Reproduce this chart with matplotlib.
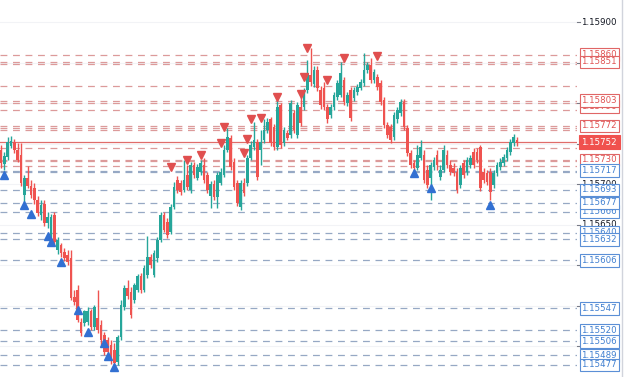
import numpy as np
import matplotlib
matplotlib.use("Agg")
import matplotlib.pyplot as plt
from matplotlib.lines import Line2D

# prices are stored as points above 1.15000 (1 point = 0.00001)
BASE = 1.15

opens = [742, 725, 734, 747, 752, 742, 736, 687, 708, 698,
         695, 681, 662, 676, 652, 631, 662, 619, 625, 617,
         613, 609, 561, 570, 530, 529, 530, 543, 524, 535,
         526, 514, 508, 502, 495, 481, 511, 549, 572, 567,
         557, 570, 587, 570, 588, 610, 588, 609, 631, 662,
         653, 641, 672, 705, 702, 693, 711, 693, 724, 708,
         715, 724, 711, 686, 700, 684, 702, 711, 742, 757,
         728, 702, 672, 702, 702, 732, 746, 752, 742, 755,
         767, 780, 771, 746, 798, 751, 763, 761, 788, 761,
         795, 795, 816, 835, 824, 841, 816, 819, 795, 786,
         795, 808, 810, 829, 800, 816, 807, 814, 819, 825,
         841, 847, 829, 832, 825, 804, 773, 771, 758, 780,
         788, 802, 770, 739, 726, 720, 732, 736, 718, 708,
         721, 736, 709, 718, 736, 724, 720, 715, 699, 726,
         715, 724, 740, 740, 746, 715, 714, 715, 699, 714,
         721, 726, 732, 740, 751, 755]
closes = [726, 735, 752, 753, 742, 730, 702, 708, 698, 687,
          681, 665, 674, 652, 660, 660, 629, 631, 615, 609,
          604, 560, 555, 533, 517, 543, 543, 524, 549, 520,
          508, 493, 493, 483, 479, 511, 551, 572, 562, 539,
          576, 587, 570, 597, 610, 600, 615, 631, 662, 644,
          637, 672, 697, 693, 691, 705, 697, 724, 711, 721,
          726, 705, 693, 700, 684, 711, 715, 742, 758, 721,
          697, 677, 702, 689, 732, 748, 755, 709, 752, 767,
          777, 751, 746, 795, 748, 767, 757, 800, 767, 798,
          776, 814, 837, 826, 841, 819, 798, 795, 780, 795,
          810, 825, 837, 802, 810, 782, 816, 820, 826, 841,
          847, 829, 839, 820, 802, 773, 761, 755, 786, 792,
          802, 771, 739, 724, 720, 736, 746, 705, 699, 724,
          730, 724, 718, 742, 724, 715, 714, 693, 720, 711,
          730, 732, 724, 730, 695, 705, 703, 691, 714, 724,
          728, 734, 742, 752, 758, 751]
highs = [748, 740, 758, 760, 756, 751, 751, 711, 723, 705,
         702, 686, 681, 681, 666, 663, 666, 635, 628, 621,
         619, 619, 570, 576, 535, 545, 548, 546, 551, 570,
         533, 518, 511, 508, 504, 514, 557, 576, 582, 573,
         578, 589, 591, 600, 636, 614, 619, 635, 666, 666,
         658, 676, 703, 710, 705, 730, 724, 728, 728, 725,
         730, 732, 715, 704, 705, 715, 720, 748, 770, 761,
         732, 705, 705, 708, 736, 753, 777, 756, 767, 780,
         782, 783, 775, 805, 800, 771, 767, 804, 792, 802,
         808, 819, 853, 868, 846, 846, 821, 826, 799, 799,
         814, 829, 851, 832, 814, 820, 820, 824, 830, 862,
         851, 856, 842, 836, 829, 808, 777, 775, 789, 795,
         805, 805, 773, 742, 730, 748, 755, 742, 724, 728,
         734, 742, 724, 748, 742, 730, 726, 720, 724, 730,
         734, 736, 745, 745, 748, 720, 718, 720, 718, 728,
         732, 737, 746, 756, 762, 758]
lows = [720, 718, 730, 745, 739, 728, 698, 678, 695, 683,
        676, 661, 656, 648, 646, 630, 625, 614, 610, 605,
        600, 557, 551, 530, 513, 525, 526, 520, 520, 517,
        502, 489, 488, 478, 476, 477, 508, 545, 558, 535,
        554, 567, 566, 567, 584, 597, 586, 604, 629, 641,
        634, 639, 670, 689, 687, 691, 693, 689, 708, 705,
        711, 702, 689, 671, 681, 671, 699, 709, 740, 718,
        693, 673, 668, 686, 698, 730, 742, 705, 724, 751,
        763, 747, 742, 742, 745, 747, 755, 757, 763, 757,
        772, 792, 813, 821, 820, 815, 793, 792, 776, 782,
        792, 804, 808, 798, 797, 778, 803, 810, 816, 821,
        837, 825, 825, 816, 798, 770, 757, 751, 755, 776,
        784, 767, 735, 720, 716, 718, 730, 702, 695, 681,
        718, 718, 705, 715, 720, 711, 710, 689, 695, 708,
        711, 720, 720, 726, 692, 702, 699, 681, 695, 710,
        718, 723, 729, 736, 747, 747]

# fractal markers (bar index, price)
buy_idx = [1, 7, 9, 14, 15, 18, 23, 26, 31, 32, 34, 124, 129, 147]
buy_px = [711, 674, 663, 636, 629, 604, 545, 518, 504, 488, 475, 714, 695, 674]
sell_idx = [51, 56, 60, 66, 67, 73, 74, 75, 78, 83, 90, 91, 92, 98, 103, 113]
sell_px = [721, 730, 736, 751, 771, 739, 756, 780, 782, 808, 812, 832, 868, 829, 856, 858]

# horizontal levels
res_levels = [860, 851, 848, 821, 803, 800, 792, 772, 770, 767, 745, 730, 729, 723]
sup_levels = [717, 715, 693, 677, 666, 640, 632, 606, 547, 520, 506, 489, 477]
last_price = 752

# right scale labels, drawn in this order (later ones on top)
res_labels = [860, 851, 796, 803, 772, 730]
sup_labels = [717, 693, 666, 677, 640, 632, 606, 547, 520, 506, 489, 477]
scale_ticks = [900, 700, 650, 600]
grid_ticks = [900, 850, 800, 750, 700, 650, 600, 550, 500]

GREEN = '#26a69a'
RED = '#ef5350'


def px(v):
    return BASE + np.asarray(v, dtype=float) / 1e5


o, c, h, l = px(opens), px(closes), px(highs), px(lows)
idx = np.arange(len(o))
up = c >= o

fig = plt.figure(figsize=(6.25, 3.77), dpi=100)
ax = fig.add_axes([0, 0, 577 / 625, 1])
ax.set_xlim(-0.3, 173)
ax.set_ylim(1.154621, 1.159275)
ax.axis('off')

# faint grid
for t in grid_ticks:
    ax.axhline(px(t), color='#f2f3f6', lw=0.8, zorder=0)

for lv in res_levels:
    ax.axhline(px(lv), color='#dc9a9a', lw=0.9, ls=(0, (5.5, 4.5)), zorder=1)
for lv in sup_levels:
    ax.axhline(px(lv), color='#96a8c4', lw=0.9, ls=(0, (5.5, 4.5)), zorder=1)
ax.axhline(px(last_price), color='#e06c6a', lw=0.9, zorder=1)

cols = np.where(up, GREEN, RED)
ax.vlines(idx, l, h, colors=cols, lw=1.0, zorder=2)
body = np.maximum(np.abs(c - o), 0.000015)
ax.bar(idx, body, bottom=np.minimum(o, c), width=0.8, color=cols, lw=0, zorder=3)

ax.plot(buy_idx, px(buy_px), ls='none', marker='^', ms=6, color='#3270d2', zorder=4)
ax.plot(sell_idx, px(sell_px), ls='none', marker='v', ms=6, color='#e04f4f', zorder=4)

trans = ax.get_yaxis_transform()
xt = 581.5 / 577
for t in grid_ticks:
    ax.plot([577 / 577, 580 / 577], [px(t)] * 2, transform=trans, color='#787b86', lw=0.8, clip_on=False)
for t in scale_ticks:
    ax.text(xt, px(t), f"{px(t):.5f}", transform=trans, ha='left', va='center', fontsize=6.2,
            color='#131722', clip_on=False, zorder=5)


def box_label(v, fc, ec, tc, z, pad=0.22):
    ax.text(xt, px(v), f"{px(v):.5f}", transform=trans, ha='left', va='center', fontsize=6.2,
            color=tc, clip_on=False, zorder=z,
            bbox=dict(boxstyle=f'square,pad={pad}', fc=fc, ec=ec, lw=0.8))


z = 6
for v in res_labels:
    box_label(v, 'white', '#e06666', '#e05252', z)
    z += 1
for v in sup_labels:
    box_label(v, 'white', '#5b8fd6', '#3f7fd0', z)
    z += 1
box_label(last_price, '#f0514e', '#f0514e', 'white', z, pad=0.3)

fig.add_artist(Line2D([622 / 625] * 2, [0, 1], transform=fig.transFigure, color='#d1d4dc', lw=1))

fig.savefig('out.png', dpi=100, facecolor='white')
